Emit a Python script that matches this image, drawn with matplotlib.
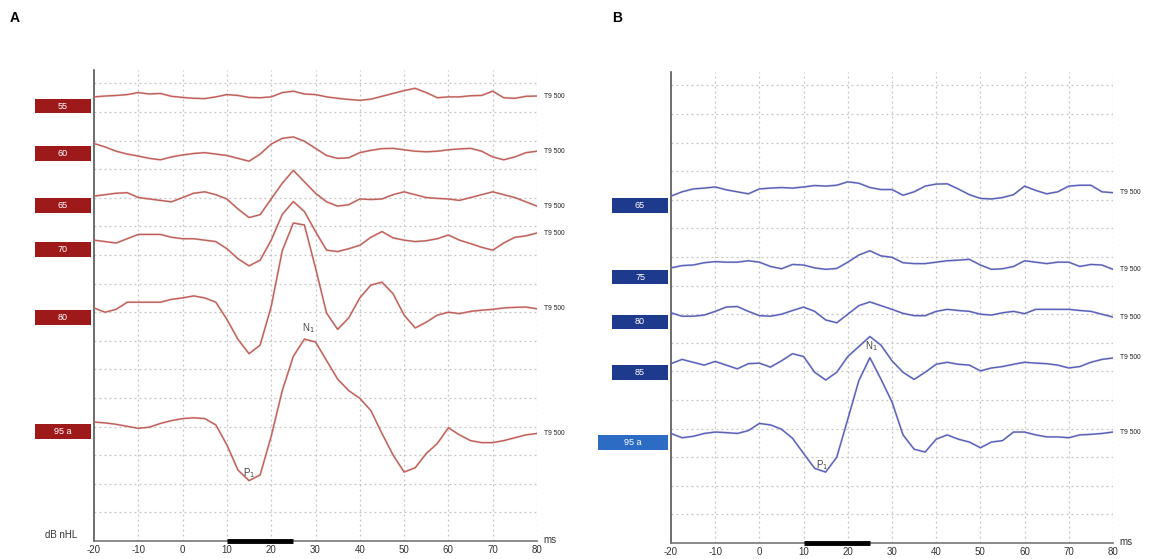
import numpy as np
import matplotlib
matplotlib.use("Agg")
import matplotlib.pyplot as plt
from matplotlib.patches import Rectangle
import matplotlib.transforms as mtransforms

plt.rcParams['font.family'] = ['Liberation Sans', 'DejaVu Sans']

# sample times (ms)
t = np.arange(-20, 80.01, 2.5)
x_ticks = [-20, -10, 0, 10, 20, 30, 40, 50, 60, 70, 80]

# ---- Panel A (red) : amplitude in grid units, relative to trace start ----
a_labels = ["55", "60", "65", "70", "80", "95 a"]
a_offsets = [15.53, 13.88, 12.06, 10.52, 8.15, 4.16]
a55 = [0, 0.03, 0.05, 0.08, 0.15, 0.1, 0.12, 0.02, -0.02, -0.05, -0.06, 0.0, 0.08, 0.05, -0.02,
       -0.03, 0.0, 0.15, 0.2, 0.1, 0.08, 0.0, -0.05, -0.09, -0.12, -0.08, 0.02, 0.12, 0.22, 0.3,
       0.15, -0.03, 0.0, 0.0, 0.04, 0.05, 0.2, -0.03, -0.05, 0.02, 0.03]
a60 = [0.02, -0.1, -0.25, -0.35, -0.42, -0.5, -0.55, -0.45, -0.38, -0.33, -0.3, -0.35, -0.4,
       -0.5, -0.6, -0.35, 0.0, 0.2, 0.25, 0.1, -0.15, -0.4, -0.5, -0.48, -0.3, -0.22, -0.16,
       -0.15, -0.2, -0.25, -0.27, -0.25, -0.2, -0.17, -0.15, -0.25, -0.45, -0.55, -0.45, -0.3, -0.25]
a65 = [0, 0.05, 0.1, 0.12, -0.05, -0.1, -0.15, -0.2, -0.05, 0.1, 0.15, 0.05, -0.1, -0.45,
       -0.75, -0.65, -0.1, 0.45, 0.9, 0.5, 0.1, -0.2, -0.35, -0.3, -0.1, -0.12, -0.1, 0.05,
       0.15, 0.05, -0.05, -0.08, -0.1, -0.15, -0.05, 0.05, 0.15, 0.05, -0.05, -0.2, -0.35]
a70 = [0, -0.05, -0.1, 0.05, 0.2, 0.2, 0.2, 0.1, 0.05, 0.05, 0.0, -0.05, -0.3, -0.65, -0.9,
       -0.7, 0.0, 0.9, 1.35, 1.0, 0.3, -0.35, -0.4, -0.3, -0.18, 0.1, 0.3, 0.08, 0.0, -0.05,
       -0.02, 0.05, 0.18, 0.0, -0.12, -0.25, -0.35, -0.1, 0.1, 0.15, 0.25]
a80 = [0, -0.15, -0.05, 0.2, 0.2, 0.2, 0.2, 0.3, 0.35, 0.42, 0.35, 0.2, -0.4, -1.1, -1.6,
       -1.3, 0.05, 2.0, 2.97, 2.9, 1.4, -0.18, -0.75, -0.35, 0.35, 0.8, 0.9, 0.5, -0.25, -0.7,
       -0.5, -0.25, -0.15, -0.2, -0.12, -0.08, -0.05, 0.0, 0.02, 0.03, -0.03]
a95 = [0, -0.03, -0.08, -0.15, -0.22, -0.18, -0.05, 0.05, 0.12, 0.15, 0.12, -0.1, -0.8,
       -1.68, -2.05, -1.85, -0.5, 1.1, 2.3, 2.9, 2.8, 2.15, 1.5, 1.1, 0.83, 0.4, -0.4, -1.15,
       -1.75, -1.6, -1.1, -0.75, -0.2, -0.45, -0.65, -0.72, -0.72, -0.65, -0.55, -0.45, -0.4]
a_traces = [a55, a60, a65, a70, a80, a95]

# ---- Panel B (blue) ----
b_labels = ["65", "75", "80", "85", "95 a"]
b_offsets = [12.13, 9.62, 8.05, 6.27, 3.83]
b65 = [0, 0.15, 0.25, 0.28, 0.32, 0.22, 0.15, 0.08, 0.25, 0.28, 0.3, 0.28, 0.32, 0.37, 0.35,
       0.38, 0.5, 0.45, 0.3, 0.23, 0.23, 0.03, 0.15, 0.35, 0.42, 0.43, 0.25, 0.05, -0.08,
       -0.1, -0.05, 0.05, 0.35, 0.2, 0.08, 0.15, 0.35, 0.38, 0.38, 0.15, 0.12]
b75 = [0, 0.08, 0.1, 0.18, 0.22, 0.2, 0.2, 0.25, 0.2, 0.05, -0.03, 0.12, 0.1, 0.0, -0.05,
       -0.02, 0.2, 0.45, 0.6, 0.42, 0.37, 0.18, 0.15, 0.15, 0.2, 0.25, 0.27, 0.3, 0.1, -0.05,
       -0.03, 0.05, 0.25, 0.2, 0.15, 0.2, 0.2, 0.05, 0.12, 0.1, -0.05]
b80 = [0, -0.12, -0.12, -0.08, 0.05, 0.2, 0.22, 0.05, -0.1, -0.12, -0.05, 0.08, 0.2, 0.05,
       -0.25, -0.35, -0.05, 0.25, 0.38, 0.25, 0.12, -0.02, -0.1, -0.1, 0.05, 0.12, 0.08, 0.05,
       -0.05, -0.08, 0.0, 0.05, -0.03, 0.12, 0.12, 0.12, 0.12, 0.08, 0.05, -0.05, -0.15]
b85 = [0, 0.15, 0.05, -0.05, 0.08, -0.05, -0.18, 0.0, 0.02, -0.12, 0.1, 0.35, 0.25, -0.3,
       -0.57, -0.3, 0.25, 0.6, 0.95, 0.65, 0.1, -0.3, -0.55, -0.3, -0.02, 0.05, -0.02, -0.05,
       -0.25, -0.15, -0.1, -0.02, 0.05, 0.02, 0.0, -0.05, -0.15, -0.1, 0.05, 0.15, 0.2]
b95 = [0, -0.15, -0.1, 0.0, 0.05, 0.03, 0.0, 0.1, 0.35, 0.3, 0.15, -0.17, -0.7, -1.22,
       -1.35, -0.83, 0.5, 1.85, 2.65, 1.9, 1.1, -0.05, -0.55, -0.65, -0.2, -0.05, -0.2, -0.3,
       -0.5, -0.3, -0.25, 0.05, 0.05, -0.05, -0.12, -0.12, -0.15, -0.05, -0.03, 0.0, 0.05]
b_traces = [b65, b75, b80, b85, b95]

# peak markers: (time, amplitude of trace) for P1 / N1 on the top-intensity trace
a_p1 = (15.0, -2.08)
a_n1 = (28.3, 2.95)
b_p1 = (14.3, -1.38)
b_n1 = (25.4, 2.72)

W, H = 1149, 559
fig = plt.figure(figsize=(W / 100, H / 100), dpi=100)


def make_panel(rect, traces, offsets, labels, line_color, box_colors, p1, n1, letter, letter_x):
    ax = fig.add_axes(rect)
    ax.set_xlim(-20, 80)
    ax.set_ylim(0, 16.47)
    # grid
    for gx in x_ticks[1:]:
        ax.plot([gx, gx], [0, 16.47], color='#c4c4c4', lw=0.9, ls=(0, (1.5, 2.5)), zorder=1)
    for gy in range(1, 17):
        ax.plot([-20, 80], [gy, gy], color='#c4c4c4', lw=0.9, ls=(0, (1.5, 2.5)), zorder=1)
    # spines
    for s in ['top', 'right']:
        ax.spines[s].set_visible(False)
    ax.spines['left'].set_color('#555555')
    ax.spines['left'].set_linewidth(1.2)
    ax.spines['bottom'].set_color('#777777')
    ax.spines['bottom'].set_linewidth(1.2)
    ax.set_yticks([])
    ax.set_xticks(x_ticks)
    ax.set_xticklabels([str(v) for v in x_ticks], fontsize=7, color='#333333')
    ax.tick_params(axis='x', length=0, pad=3)
    # stimulus bar
    ax.plot([10, 25], [0, 0], color='black', lw=3.5, solid_capstyle='butt', clip_on=False, zorder=5)
    ax.text(81.5, 0.05, 'ms', fontsize=7, color='#333333', ha='left', va='center')

    for i, (tr, off, lab) in enumerate(zip(traces, offsets, labels)):
        y = off + np.array(tr)
        ax.plot(t, y, color=line_color, lw=1.6, alpha=0.25, zorder=3, solid_joinstyle='round')
        ax.plot(t, y, color=line_color, lw=1.0, zorder=4, solid_joinstyle='round')
        ax.text(81.5, y[-1], 'T9 500', fontsize=4.8, color='#222222', ha='left', va='center')
        x0 = -33.3 if lab != "95 a" or box_colors[1] is None else -36.5
        bc = box_colors[0] if lab != "95 a" or box_colors[1] is None else box_colors[1]
        rect_p = Rectangle((x0, off - 0.58), -20.7 - x0, 0.52, facecolor=bc, edgecolor='none',
                           clip_on=False, zorder=5)
        ax.add_patch(rect_p)
        ax.text((x0 - 20.7) / 2, off - 0.32, lab, fontsize=6.5, color='white', ha='center',
                va='center', clip_on=False, zorder=6)
    top = np.array(traces[-1]) + offsets[-1]
    ax.text(p1[0], offsets[-1] + p1[1] + 0.05, r'P$_1$', fontsize=7, color='#444444',
            ha='center', va='bottom', zorder=6)
    ax.text(n1[0], offsets[-1] + n1[1] + 0.08, r'N$_1$', fontsize=7, color='#444444',
            ha='center', va='bottom', zorder=6)
    fig.text(letter_x / W, 1 - 18 / H, letter, fontsize=10, fontweight='bold', ha='left', va='center')
    return ax


axA = make_panel([94 / W, 18 / H, 443 / W, 471 / H], a_traces, a_offsets, a_labels,
                 '#c0605a', ('#9e1a1a', None), a_p1, a_n1, 'A', 10)
axA.text(-27.5, 0.22, 'dB nHL', fontsize=7, color='#333333', ha='center', va='center', clip_on=False)

axB = make_panel([671 / W, 16 / H, 442 / W, 471 / H], b_traces, b_offsets, b_labels,
                 '#5a60b8', ('#1e3a8c', '#2c6cc4'), b_p1, b_n1, 'B', 612)

fig.savefig('out.png', dpi=100)
